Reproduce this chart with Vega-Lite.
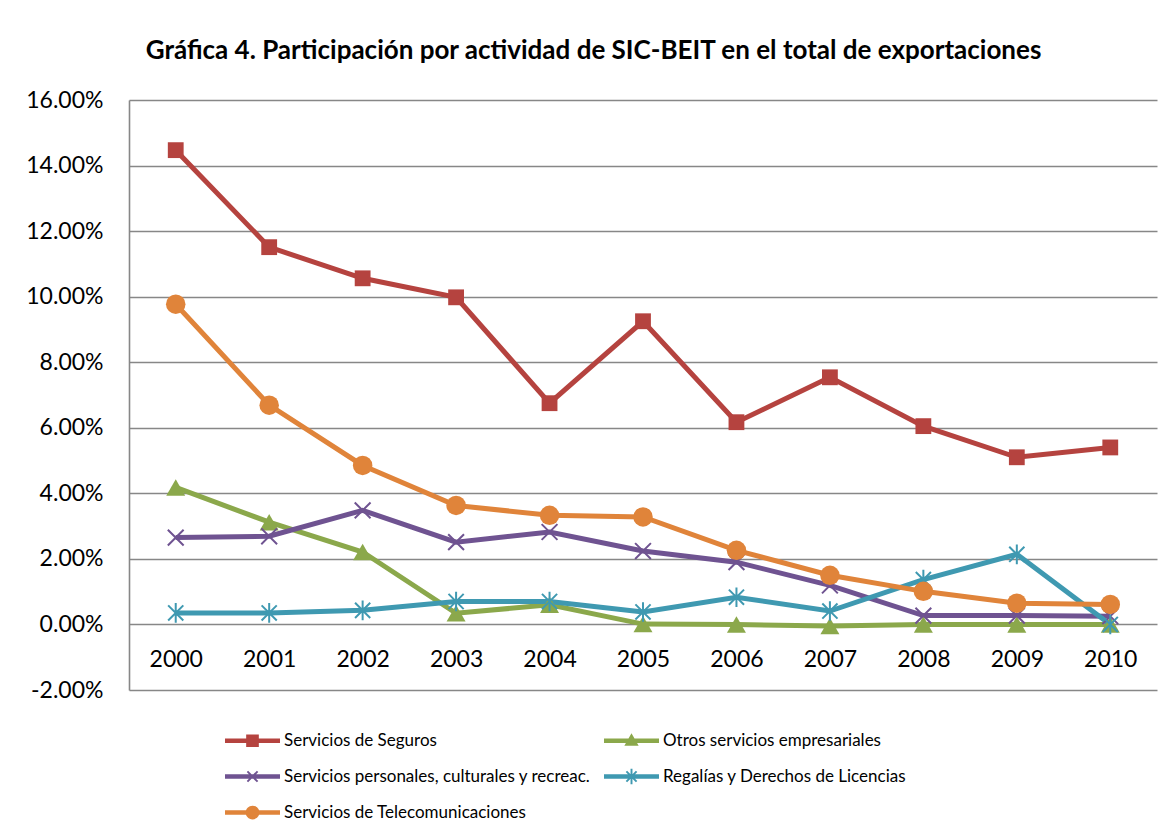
{
  "$schema": "https://vega.github.io/schema/vega-lite/v6.json",
  "width": 1028,
  "height": 590,
  "autosize": {"type": "none"},
  "padding": {"left": 129, "top": 100, "right": 13, "bottom": 149},
  "background": "white",
  "title": {
    "text": "Gráfica 4. Participación por actividad de SIC-BEIT en el total de exportaciones",
    "anchor": "start",
    "dx": 120,
    "offset": 25,
    "font": "Lato",
    "fontSize": 26,
    "fontWeight": "bold",
    "color": "black"
  },
  "config": {"font": "Lato", "view": {"stroke": null}},
  "data": {
    "values": [
      {"anio": "2000", "serie": "Servicios de Seguros", "valor": 0.1447},
      {"anio": "2001", "serie": "Servicios de Seguros", "valor": 0.1151},
      {"anio": "2002", "serie": "Servicios de Seguros", "valor": 0.1056},
      {"anio": "2003", "serie": "Servicios de Seguros", "valor": 0.0998},
      {"anio": "2004", "serie": "Servicios de Seguros", "valor": 0.0675},
      {"anio": "2005", "serie": "Servicios de Seguros", "valor": 0.0925},
      {"anio": "2006", "serie": "Servicios de Seguros", "valor": 0.0617},
      {"anio": "2007", "serie": "Servicios de Seguros", "valor": 0.0754},
      {"anio": "2008", "serie": "Servicios de Seguros", "valor": 0.0605},
      {"anio": "2009", "serie": "Servicios de Seguros", "valor": 0.0510},
      {"anio": "2010", "serie": "Servicios de Seguros", "valor": 0.0540},
      {"anio": "2000", "serie": "Otros servicios empresariales", "valor": 0.0418},
      {"anio": "2001", "serie": "Otros servicios empresariales", "valor": 0.0312},
      {"anio": "2002", "serie": "Otros servicios empresariales", "valor": 0.0221},
      {"anio": "2003", "serie": "Otros servicios empresariales", "valor": 0.0034},
      {"anio": "2004", "serie": "Otros servicios empresariales", "valor": 0.0060},
      {"anio": "2005", "serie": "Otros servicios empresariales", "valor": 0.0001},
      {"anio": "2006", "serie": "Otros servicios empresariales", "valor": 0.0000},
      {"anio": "2007", "serie": "Otros servicios empresariales", "valor": -0.0005},
      {"anio": "2008", "serie": "Otros servicios empresariales", "valor": 0.0000},
      {"anio": "2009", "serie": "Otros servicios empresariales", "valor": 0.0000},
      {"anio": "2010", "serie": "Otros servicios empresariales", "valor": 0.0000},
      {"anio": "2000", "serie": "Servicios personales, culturales y recreac.", "valor": 0.0265},
      {"anio": "2001", "serie": "Servicios personales, culturales y recreac.", "valor": 0.0269},
      {"anio": "2002", "serie": "Servicios personales, culturales y recreac.", "valor": 0.0348},
      {"anio": "2003", "serie": "Servicios personales, culturales y recreac.", "valor": 0.0251},
      {"anio": "2004", "serie": "Servicios personales, culturales y recreac.", "valor": 0.0282},
      {"anio": "2005", "serie": "Servicios personales, culturales y recreac.", "valor": 0.0224},
      {"anio": "2006", "serie": "Servicios personales, culturales y recreac.", "valor": 0.0190},
      {"anio": "2007", "serie": "Servicios personales, culturales y recreac.", "valor": 0.0119},
      {"anio": "2008", "serie": "Servicios personales, culturales y recreac.", "valor": 0.0027},
      {"anio": "2009", "serie": "Servicios personales, culturales y recreac.", "valor": 0.0027},
      {"anio": "2010", "serie": "Servicios personales, culturales y recreac.", "valor": 0.0025},
      {"anio": "2000", "serie": "Regalías y Derechos de Licencias", "valor": 0.0035},
      {"anio": "2001", "serie": "Regalías y Derechos de Licencias", "valor": 0.0035},
      {"anio": "2002", "serie": "Regalías y Derechos de Licencias", "valor": 0.0043},
      {"anio": "2003", "serie": "Regalías y Derechos de Licencias", "valor": 0.0070},
      {"anio": "2004", "serie": "Regalías y Derechos de Licencias", "valor": 0.0070},
      {"anio": "2005", "serie": "Regalías y Derechos de Licencias", "valor": 0.0038},
      {"anio": "2006", "serie": "Regalías y Derechos de Licencias", "valor": 0.0083},
      {"anio": "2007", "serie": "Regalías y Derechos de Licencias", "valor": 0.0041},
      {"anio": "2008", "serie": "Regalías y Derechos de Licencias", "valor": 0.0137},
      {"anio": "2009", "serie": "Regalías y Derechos de Licencias", "valor": 0.0214},
      {"anio": "2010", "serie": "Regalías y Derechos de Licencias", "valor": 0.0000},
      {"anio": "2000", "serie": "Servicios de Telecomunicaciones", "valor": 0.0977},
      {"anio": "2001", "serie": "Servicios de Telecomunicaciones", "valor": 0.0669},
      {"anio": "2002", "serie": "Servicios de Telecomunicaciones", "valor": 0.0485},
      {"anio": "2003", "serie": "Servicios de Telecomunicaciones", "valor": 0.0363},
      {"anio": "2004", "serie": "Servicios de Telecomunicaciones", "valor": 0.0333},
      {"anio": "2005", "serie": "Servicios de Telecomunicaciones", "valor": 0.0328},
      {"anio": "2006", "serie": "Servicios de Telecomunicaciones", "valor": 0.0226},
      {"anio": "2007", "serie": "Servicios de Telecomunicaciones", "valor": 0.0150},
      {"anio": "2008", "serie": "Servicios de Telecomunicaciones", "valor": 0.0101},
      {"anio": "2009", "serie": "Servicios de Telecomunicaciones", "valor": 0.0065},
      {"anio": "2010", "serie": "Servicios de Telecomunicaciones", "valor": 0.0061}
    ]
  },
  "encoding": {
    "x": {
      "field": "anio",
      "type": "ordinal",
      "scale": {"type": "point", "padding": 0.5},
      "axis": {
        "title": null,
        "labelAngle": 0,
        "domain": false,
        "ticks": false,
        "grid": false,
        "offset": -66,
        "labelPadding": 24,
        "labelFont": "Lato",
        "labelFontSize": 23,
        "labelColor": "black"
      }
    },
    "y": {
      "field": "valor",
      "type": "quantitative",
      "scale": {"domain": [-0.02, 0.16], "nice": false, "zero": false},
      "axis": {
        "title": null,
        "values": [-0.02, 0, 0.02, 0.04, 0.06, 0.08, 0.1, 0.12, 0.14, 0.16],
        "format": ".2%",
        "labelExpr": "replace(datum.label, '−', '-')",
        "grid": true,
        "gridColor": "#878787",
        "gridWidth": 1.6,
        "domain": true,
        "domainColor": "#878787",
        "domainWidth": 1.6,
        "ticks": false,
        "labelPadding": 26,
        "labelFlush": false,
        "labelOverlap": false,
        "labelFont": "Lato",
        "labelFontSize": 23,
        "labelColor": "black"
      }
    }
  },
  "layer": [
    {
      "mark": {"type": "point", "filled": true, "opacity": 0},
      "encoding": {
        "color": {
          "field": "serie",
          "type": "nominal",
          "scale": {
            "domain": ["Servicios de Seguros", "Otros servicios empresariales", "Servicios personales, culturales y recreac.", "Regalías y Derechos de Licencias", "Servicios de Telecomunicaciones"],
            "range": ["#B5433F", "#8BA84B", "#6F5391", "#3F99B1", "#E0843A"]
          },
          "legend": {
            "title": null, "orient": "none", "legendX": 96, "legendY": 613, "columns": 2, "direction": "horizontal",
            "columnPadding": 13, "rowPadding": -16, "symbolSize": 3025, "symbolOpacity": 1,
            "symbolStrokeWidth": 0, "labelOffset": 4, "labelLimit": 500, "labelFont": "Lato", "labelFontSize": 17, "labelColor": "black"
          }
        },
        "shape": {
          "field": "serie",
          "type": "nominal",
          "scale": {
            "domain": ["Servicios de Seguros", "Otros servicios empresariales", "Servicios personales, culturales y recreac.", "Regalías y Derechos de Licencias", "Servicios de Telecomunicaciones"],
            "range": [
              "M-1,-0.08H1V0.08H-1ZM-0.23,-0.23H0.23V0.23H-0.23Z",
              "M-1,-0.08H1V0.08H-1ZM0,-0.27L0.26,0.18H-0.26Z",
              "M-1,-0.08H1V0.08H-1ZM-0.21,-0.16L-0.16,-0.21L0.21,0.16L0.16,0.21ZM0.16,-0.21L0.21,-0.16L-0.16,0.21L-0.21,0.16Z",
              "M-1,-0.08H1V0.08H-1ZM-0.21,-0.16L-0.16,-0.21L0.21,0.16L0.16,0.21ZM0.16,-0.21L0.21,-0.16L-0.16,0.21L-0.21,0.16ZM-0.035,-0.28H0.035V0.28H-0.035Z",
              "M-1,-0.08H1V0.08H-1ZM0.25,0A0.25,0.25 0 1,1 -0.25,0A0.25,0.25 0 1,1 0.25,0Z"
            ]
          },
          "legend": {
            "title": null, "orient": "none", "legendX": 96, "legendY": 613, "columns": 2, "direction": "horizontal",
            "columnPadding": 13, "rowPadding": -16, "symbolSize": 3025, "symbolOpacity": 1,
            "symbolStrokeWidth": 0, "labelOffset": 4, "labelLimit": 500, "labelFont": "Lato", "labelFontSize": 17, "labelColor": "black"
          }
        }
      }
    },
    {
      "mark": {"type": "line", "strokeWidth": 5},
      "encoding": {"color": {"field": "serie", "type": "nominal", "legend": null}}
    },
    {
      "transform": [{"filter": {"field": "serie", "equal": "Servicios de Seguros"}}],
      "mark": {"type": "point", "shape": "square", "size": 250, "filled": true, "opacity": 1},
      "encoding": {"color": {"field": "serie", "type": "nominal", "legend": null}}
    },
    {
      "transform": [{"filter": {"field": "serie", "equal": "Otros servicios empresariales"}}],
      "mark": {"type": "point", "shape": "triangle-up", "size": 360, "filled": true, "opacity": 1},
      "encoding": {"color": {"field": "serie", "type": "nominal", "legend": null}}
    },
    {
      "transform": [{"filter": {"field": "serie", "equal": "Servicios personales, culturales y recreac."}}],
      "mark": {"type": "point", "shape": "M-1,-1L1,1M-1,1L1,-1", "size": 250, "filled": false, "strokeWidth": 2, "opacity": 1},
      "encoding": {"color": {"field": "serie", "type": "nominal", "legend": null}}
    },
    {
      "transform": [{"filter": {"field": "serie", "equal": "Regalías y Derechos de Licencias"}}],
      "mark": {"type": "point", "shape": "M-1,-1L1,1M-1,1L1,-1M0,-1.3V1.3", "size": 230, "filled": false, "strokeWidth": 2, "opacity": 1},
      "encoding": {"color": {"field": "serie", "type": "nominal", "legend": null}}
    },
    {
      "transform": [{"filter": {"field": "serie", "equal": "Servicios de Telecomunicaciones"}}],
      "mark": {"type": "point", "shape": "circle", "size": 380, "filled": true, "opacity": 1},
      "encoding": {"color": {"field": "serie", "type": "nominal", "legend": null}}
    }
  ]
}
